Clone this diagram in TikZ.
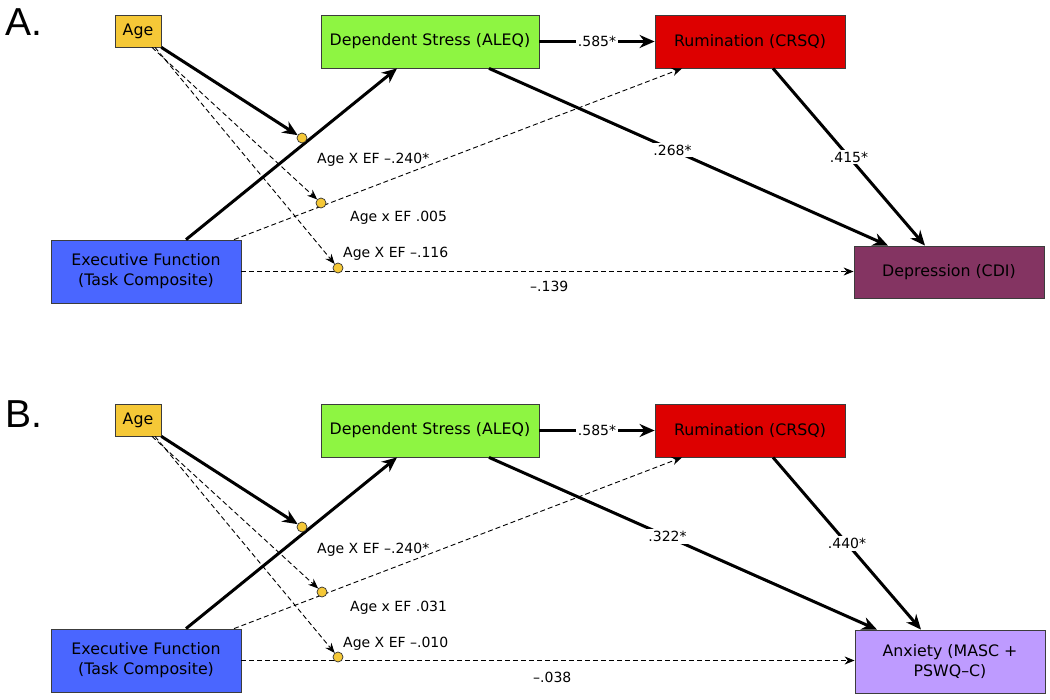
\documentclass[tikz,border=0pt]{standalone}
\usepackage{fontspec}
\setmainfont{DejaVu Sans}
\newfontfamily\panelfont{Liberation Sans}
\usetikzlibrary{arrows.meta,calc}
\definecolor{ageY}{RGB}{245,200,55}
\definecolor{aleqG}{RGB}{142,245,66}
\definecolor{rumR}{RGB}{221,0,0}
\definecolor{efB}{RGB}{74,102,255}
\definecolor{depP}{RGB}{132,52,98}
\definecolor{anxP}{RGB}{190,155,255}
\definecolor{boxgray}{RGB}{60,60,60}
\begin{document}
\begin{tikzpicture}[x=1pt,y=-1pt,
  box/.style={draw=boxgray, line width=0.8pt, inner sep=0pt, align=center,
    font=\fontsize{15.8}{20}\selectfont},
  lbl/.style={inner sep=0pt, anchor=base west, font=\fontsize{14}{17}\selectfont},
  elbl/.style={fill=white, inner sep=2pt, font=\fontsize{14}{17}\selectfont},
  panel/.style={inner sep=0pt, anchor=base west, font=\panelfont\fontsize{39}{39}\selectfont},
  strong/.style={line width=3pt, -{Stealth[length=15pt,width=13pt]}},
  weak/.style={line width=0.9pt, dash pattern=on 5pt off 3pt, -{Stealth[length=10pt,width=8pt]}},
  dotspot/.style={circle, inner sep=0pt, minimum size=10pt},
  dot/.style={circle, draw=black!80, fill=ageY, inner sep=0pt, minimum size=10pt, line width=0.7pt}]
\useasboundingbox (0,0) rectangle (1050,700);

% ---------------- Panel A ----------------
\node[panel] (aLab) at (5,36) {A.};
\node[box, fill=ageY, minimum width=46pt, minimum height=32pt] (aAge) at (138,31) {Age};
\node[box, fill=aleqG, minimum width=218pt, minimum height=53pt] (aAleq) at (430,41.5) {Dependent Stress (ALEQ)};
\node[box, fill=rumR, minimum width=190pt, minimum height=53pt] (aRum) at (750,41.5) {Rumination (CRSQ)};
\node[box, fill=efB, minimum width=190pt, minimum height=63pt] (aEF) at (146,271.5) {Executive Function\\(Task Composite)};
\node[box, fill=depP, minimum width=190pt, minimum height=52pt] (aDep) at (949,272) {Depression (CDI)};

\node[dotspot] (aD1) at (302,138) {};
\node[dotspot] (aD2) at (321,203) {};
\node[dotspot] (aD3) at (338,268) {};

\draw[strong] ([xshift=40pt]aEF.north) -- ([xshift=-33pt]aAleq.south);
\draw[weak] ([xshift=88pt]aEF.north) -- ([xshift=-68pt]aRum.south);
\draw[weak] (aEF.east) -- (aEF.east -| aDep.west);
\draw[strong] (aAleq.east) -- node[elbl]{.585*} (aRum.west);
\draw[strong] ([xshift=59pt]aAleq.south) -- node[elbl,pos=0.46]{.268*} ([xshift=-61pt]aDep.north);
\draw[strong] ([xshift=23pt]aRum.south) -- node[elbl]{.415*} ([xshift=-24pt]aDep.north);
\draw[strong] (aAge.south east) -- (aD1);
\draw[weak] ([xshift=14pt]aAge.south) -- (aD2);
\draw[weak] ([xshift=17pt]aAge.south) -- (aD3);

\node[dot] at (aD1) {};
\node[dot] at (aD2) {};
\node[dot] at (aD3) {};

\node[lbl] (aL1) at (317,164) {Age X EF –.240*};
\node[lbl] (aL2) at (350,222) {Age x EF .005};
\node[lbl] (aL3) at (343,258) {Age X EF –.116};
\node[lbl] (aL4) at (530,292) {–.139};

% ---------------- Panel B ----------------
\node[panel] (bLab) at (5,428) {B.};
\node[box, fill=ageY, minimum width=46pt, minimum height=32pt] (bAge) at (138,420) {Age};
\node[box, fill=aleqG, minimum width=218pt, minimum height=53pt] (bAleq) at (430,430.5) {Dependent Stress (ALEQ)};
\node[box, fill=rumR, minimum width=190pt, minimum height=53pt] (bRum) at (750,430.5) {Rumination (CRSQ)};
\node[box, fill=efB, minimum width=190pt, minimum height=63pt] (bEF) at (146,660.5) {Executive Function\\(Task Composite)};
\node[box, fill=anxP, minimum width=190pt, minimum height=63pt] (bAnx) at (950,661.5) {Anxiety (MASC +\\PSWQ–C)};

\node[dotspot] (bD1) at (302,527) {};
\node[dotspot] (bD2) at (322,592) {};
\node[dotspot] (bD3) at (338,657) {};

\draw[strong] ([xshift=40pt]bEF.north) -- ([xshift=-33pt]bAleq.south);
\draw[weak] ([xshift=88pt]bEF.north) -- ([xshift=-68pt]bRum.south);
\draw[weak] (bEF.east) -- (bEF.east -| bAnx.west);
\draw[strong] (bAleq.east) -- node[elbl]{.585*} (bRum.west);
\draw[strong] ([xshift=59pt]bAleq.south) -- node[elbl,pos=0.46]{.322*} ([xshift=-73pt]bAnx.north);
\draw[strong] ([xshift=23pt]bRum.south) -- node[elbl]{.440*} ([xshift=-29pt]bAnx.north);
\draw[strong] (bAge.south east) -- (bD1);
\draw[weak] ([xshift=14pt]bAge.south) -- (bD2);
\draw[weak] ([xshift=17pt]bAge.south) -- (bD3);

\node[dot] at (bD1) {};
\node[dot] at (bD2) {};
\node[dot] at (bD3) {};

\node[lbl] (bL1) at (317,553) {Age X EF –.240*};
\node[lbl] (bL2) at (350,611) {Age x EF .031};
\node[lbl] (bL3) at (343,647) {Age X EF –.010};
\node[lbl] (bL4) at (533,682) {–.038};
\end{tikzpicture}
\end{document}
